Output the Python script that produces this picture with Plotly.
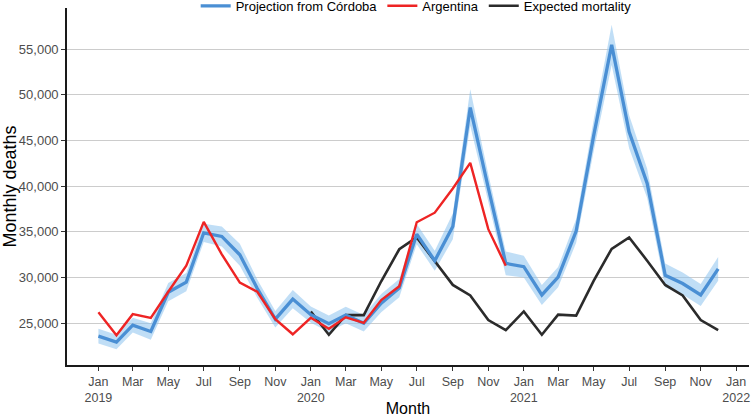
import pandas as pd
import plotly.graph_objects as go

# ---- data ----
months_all = pd.date_range("2019-01-01", "2021-12-01", freq="MS")
months_arg = pd.date_range("2019-01-01", "2020-12-01", freq="MS")
months_exp = pd.date_range("2020-01-01", "2021-12-01", freq="MS")

projection = [23600, 22950, 24800, 24100, 28400, 29500, 34900, 34500, 32500, 28800, 25450, 27650,
              25950, 24950, 25900, 25000, 27200, 28850, 34750, 31850, 35600, 48600, 39800, 31550,
              31200, 28100, 30050, 35100, 45500, 55450, 45950, 40300, 30250, 29350, 28100, 30950]
projection_low = [22800, 22150, 24000, 23200, 27400, 28500, 33900, 33400, 31300, 27800, 24550, 26650,
                  25050, 24050, 25000, 24100, 26200, 27850, 33650, 30750, 34200, 46600, 38300, 30250,
                  30000, 27000, 28950, 33800, 43800, 53250, 44150, 38700, 28950, 28150, 26900, 29650]
projection_high = [24400, 23750, 25600, 25000, 29400, 30500, 35900, 35600, 33700, 29800, 26350, 28650,
                   26850, 25850, 26800, 25900, 28200, 29850, 35850, 32950, 37000, 50600, 41300, 32850,
                   32400, 29200, 31150, 36400, 47200, 57650, 47750, 41900, 31550, 30550, 29300, 32250]
argentina = [26200, 23700, 26000, 25600, 28450, 31300, 36100, 32550, 29450, 28450, 25450, 23800,
             25600, 24400, 25650, 25050, 27550, 29050, 36050, 37100, 39750, 42550, 35300, 31300]
expected = [26300, 23750, 25900, 25900, 29600, 33100, 34400, 31800, 29200, 28050, 25350, 24250,
            26300, 23750, 25950, 25850, 29650, 33150, 34400, 31850, 29200, 28050, 25350, 24250]

tick_dates = pd.date_range("2019-01-01", "2022-01-01", freq="2MS")
tick_months = ["Jan", "Mar", "May", "Jul", "Sep", "Nov"] * 3 + ["Jan"]
year_dates = pd.date_range("2019-01-01", "2022-01-01", freq="YS")
year_labels = ["2019", "2020", "2021", "2022"]
y_ticks = [25000, 30000, 35000, 40000, 45000, 50000, 55000]

BLUE = "#4a8fd4"
RIBBON = "rgba(140,195,238,0.55)"
RED = "#ee2424"
BLACK = "#2b2b2b"
FONT = "Liberation Sans, Arial, sans-serif"
X_RANGE = ["2018-11-08", "2022-01-23"]

fig = go.Figure()
xs = list(months_all)
fig.add_trace(go.Scatter(
    x=xs + xs[::-1], y=projection_high + projection_low[::-1],
    fill="toself", fillcolor=RIBBON, line=dict(width=0),
    mode="lines", hoverinfo="skip", showlegend=False))
fig.add_trace(go.Scatter(x=months_exp, y=expected, mode="lines", name="Expected mortality",
                         line=dict(color=BLACK, width=2.6), legendrank=3))
fig.add_trace(go.Scatter(x=months_all, y=projection, mode="lines", name="Projection from Córdoba",
                         line=dict(color=BLUE, width=3.3), legendrank=1))
fig.add_trace(go.Scatter(x=months_arg, y=argentina, mode="lines", name="Argentina",
                         line=dict(color=RED, width=2.4), legendrank=2))
# empty helper trace so the year-label axis is drawn
fig.add_trace(go.Scatter(x=list(year_dates), y=[None] * len(year_dates), xaxis="x2",
                         mode="lines", showlegend=False, hoverinfo="skip"))

fig.update_layout(
    width=753, height=417,
    margin=dict(l=67, r=4, t=8, b=52, autoexpand=False),
    paper_bgcolor="white", plot_bgcolor="white",
    font=dict(family=FONT, color="#000000"),
    legend=dict(orientation="h", x=0.512, xanchor="center", y=1.006, yanchor="middle",
                font=dict(size=13, color="#000000"), bgcolor="rgba(0,0,0,0)",
                itemwidth=30, tracegroupgap=0),
    showlegend=True,
    xaxis=dict(
        type="date", range=X_RANGE,
        tickvals=list(tick_dates), ticktext=tick_months,
        tickfont=dict(size=12.5, color="#4d4d4d"),
        showgrid=False, zeroline=False,
        showline=True, linecolor="#1a1a1a", linewidth=1.6,
        ticks="outside", ticklen=4, tickwidth=1, tickcolor="#333333",
        title=dict(text="Month", font=dict(size=16, color="#000000"), standoff=25),
        automargin=False,
    ),
    xaxis2=dict(
        type="date", range=X_RANGE, overlaying="x", anchor="y", side="bottom",
        tickvals=list(year_dates), ticktext=year_labels,
        tickfont=dict(size=12.5, color="#4d4d4d"),
        showgrid=False, zeroline=False, showline=False,
        ticks="outside", ticklen=4, tickcolor="rgba(0,0,0,0)",
        ticklabelstandoff=17, automargin=False,
    ),
    yaxis=dict(
        range=[20440, 59490],
        tickvals=y_ticks, tickformat=",d",
        tickfont=dict(size=13, color="#4d4d4d"),
        showgrid=True, gridcolor="#cccccc", gridwidth=1, zeroline=False,
        showline=True, linecolor="#1a1a1a", linewidth=1.6,
        ticks="outside", ticklen=4, tickwidth=1, tickcolor="#333333",
        title=dict(text="Monthly deaths", font=dict(size=18, color="#000000"), standoff=4),
        automargin=False,
    ),
)

fig.write_html("out.html",
               config={"displayModeBar": False},
               post_script="document.body.style.margin='0';document.body.style.padding='0';")
